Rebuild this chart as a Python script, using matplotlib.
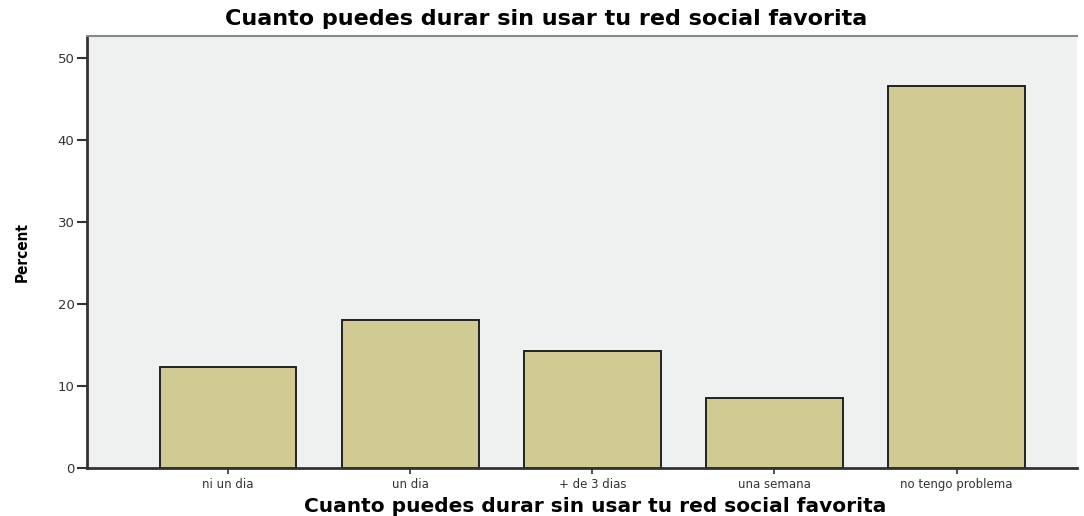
import numpy as np
from matplotlib import pyplot as plt

# datos (porcentajes)
categorias = ['ni un dia', 'un dia', '+ de 3 dias', 'una semana', 'no tengo problema']
porcentajes = [12.38, 18.10, 14.29, 8.57, 46.67]
yticks = [0, 10, 20, 30, 40, 50]

W, H = 1084, 516
fig = plt.figure(figsize=(W / 100, H / 100), dpi=100)
ax = fig.add_axes([0.0803, 0.093, 0.913, 0.837])
ax.set_facecolor('#eff0f0')

x = np.arange(len(categorias))
ax.bar(x, porcentajes, width=0.75, color='#d0cb92', edgecolor='#222222', linewidth=1.4, zorder=2)

ax.set_xlim(-0.775, 4.66)
ax.set_ylim(0, 52.7)
ax.set_yticks(yticks)
ax.set_xticks(x)
ax.set_xticklabels(categorias, fontsize=8.5, color='#333333')
ax.tick_params(axis='y', labelsize=9.5, length=7, width=1.5, color='#333333', labelcolor='#333333', pad=2)
ax.tick_params(axis='x', length=4, width=1.2, color='#333333', pad=3)

for s in ['left', 'bottom']:
    ax.spines[s].set_linewidth(2)
    ax.spines[s].set_color('#333333')
ax.spines['top'].set_color('#888888')
ax.spines['top'].set_linewidth(1.5)
ax.spines['right'].set_visible(False)

# titulo y etiquetas de ejes
fig.text(546 / W, 1 - 19 / H, 'Cuanto puedes durar sin usar tu red social favorita',
         fontsize=16, fontweight='bold', ha='center', va='center')
fig.text(595 / W, 1 - 507 / H, 'Cuanto puedes durar sin usar tu red social favorita',
         fontsize=14.5, fontweight='bold', ha='center', va='center')
fig.text(22 / W, 1 - 252 / H, 'Percent', rotation=90, fontsize=11, fontweight='bold',
         fontstretch='condensed', ha='center', va='center')

fig.savefig('out.png', dpi=100)
